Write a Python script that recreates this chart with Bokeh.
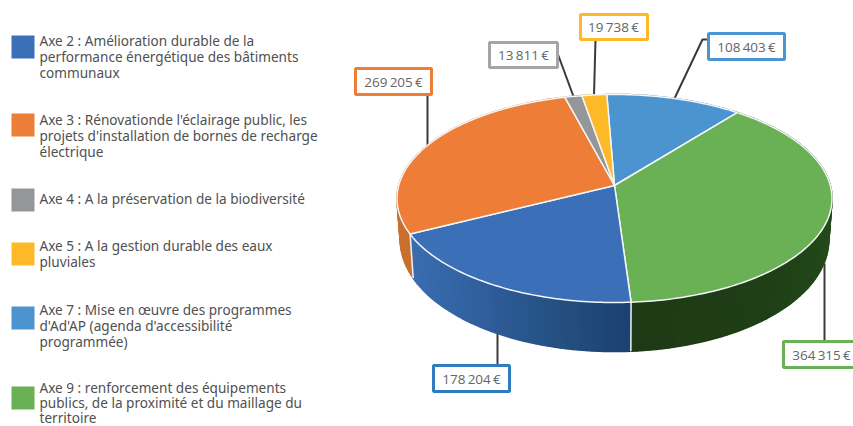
import math
from bokeh.plotting import figure
from bokeh.models import Range1d
from bokeh.core.properties import value
from bokeh.embed import file_html
from bokeh.resources import INLINE

# ---- data (clockwise from the top of the pie)
axes_names = ["Axe 7", "Axe 9", "Axe 2", "Axe 3", "Axe 4", "Axe 5"]
amounts = [108403, 364315, 178204, 269205, 13811, 19738]
top_colors = ["#4c94d0", "#6ab155", "#3b70b8", "#ed7d37", "#949697", "#fdb927"]
wall_colors = [
    ["#3a76a8", "#3a76a8"],
    ["#2a5320", "#30521f", "#244a1a", "#1f3f17", "#1d3a15"],
    ["#1b4171", "#24507f", "#2e5c98", "#3567a8", "#3b6db0"],
    ["#c9702f", "#c9702f"],
    ["#777777", "#777777"],
    ["#c99520", "#c99520"],
]
legend_lines = [
    ["Axe 2 : Amélioration durable de la", "performance énergétique des bâtiments", "communaux"],
    ["Axe 3 : Rénovationde l'éclairage public, les", "projets d'installation de bornes de recharge", "électrique"],
    ["Axe 4 : A la préservation de la biodiversité"],
    ["Axe 5 : A la gestion durable des eaux", "pluviales"],
    ["Axe 7 : Mise en œuvre des programmes", "d'Ad'AP (agenda d'accessibilité", "programmée)"],
    ["Axe 9 : renforcement des équipements", "publics, de la proximité et du maillage du", "territoire"],
]
legend_colors = ["#3b70b8", "#ed7d37", "#949697", "#fdb927", "#4c94d0", "#6ab155"]

# ---- layout (reference pixels)
W, H = 853, 426
CX, CY = 614.0, 185.0
KX, KY, PERSP = 215.8, 102.4, 0.125
START = -2.3
legend_box_y = [(35, 58), (113, 136), (188, 211), (242, 265), (306, 329), (386, 409)]
legend_text_y = [[40, 56, 72], [119, 135, 151], [198], [245, 261], [309, 325, 341], [387, 402, 417]]
label_boxes = [
    (708, 784, 33, 59, "#4a95d3"),
    (783, 870, 341, 367, "#6ab155"),
    (433, 509, 365, 391, "#2f7cc0"),
    (355, 431, 68, 94, "#ed7d37"),
    (489, 557, 42, 67, "#a3a5a6"),
    (580, 647, 14, 39, "#fdb927"),
]
label_text_x = [746, 821, 471, 393, 523, 613]
leaders = [
    ([708, 702, 674], [39, 39, 98]),
    ([824, 824], [263, 341]),
    ([497, 497], [333, 365]),
    ([427, 427], [94, 146]),
    ([556, 573], [50, 96]),
    ([595, 593.5], [39, 95]),
]


def project(deg):
    t = math.radians(deg)
    u, v = math.sin(t), -math.cos(t)
    d = 1 - PERSP * v
    return CX + KX * u / d, CY + KY * v / d, v


def low(deg):
    x, y, v = project(deg)
    return CX + (x - CX) * 0.985, y + 40 + 9 * v


def mix(stops, f):
    pos = f * (len(stops) - 1)
    i = min(int(pos), len(stops) - 2)
    a, b = stops[i], stops[i + 1]
    w = pos - i
    ca = [int(a[j:j + 2], 16) for j in (1, 3, 5)]
    cb = [int(b[j:j + 2], 16) for j in (1, 3, 5)]
    return "#%02x%02x%02x" % tuple(round(p + (q - p) * w) for p, q in zip(ca, cb))


p = figure(width=W, height=H, output_backend="svg", toolbar_location=None,
           x_range=Range1d(0, W), y_range=Range1d(H, 0),
           min_border=0, outline_line_color=None, background_fill_color="white",
           border_fill_color="white")
p.axis.visible = False
p.grid.visible = False

total = sum(amounts)
spans = []
a0 = START
for amt in amounts:
    a1 = a0 + 360 * amt / total
    spans.append((a0, a1))
    a0 = a1

# leader lines go under the pie
for xs, ys in leaders:
    p.line(xs, ys, line_color="#3a3a3a", line_width=2)

# walls
wx, wy, wc = [], [], []
for (a0, a1), stops in zip(spans, wall_colors):
    n = max(2, int((a1 - a0) / 1.5))
    for i in range(n):
        b0 = a0 + (a1 - a0) * i / n
        b1 = a0 + (a1 - a0) * (i + 1) / n
        t0, t1 = project(b0), project(b1)
        l0, l1 = low(b0), low(b1)
        wx.append([t0[0], t1[0], l1[0], l0[0]])
        wy.append([t0[1], t1[1], l1[1], l0[1]])
        wc.append(mix(stops, (i + 0.5) / n))
p.patches(wx, wy, fill_color=wc, line_color=wc, line_width=1.6)

# wall separators
for (a0, a1) in spans:
    t, l = project(a0), low(a0)
    if t[2] > 0.1:
        p.line([t[0], l[0]], [t[1], l[1]], line_color="#eef2f6", line_width=1.5)

# top face
tx, ty = [], []
for (a0, a1) in spans:
    n = max(3, int(a1 - a0))
    pts = [project(a0 + (a1 - a0) * i / n) for i in range(n + 1)]
    tx.append([CX] + [q[0] for q in pts])
    ty.append([CY] + [q[1] for q in pts])
p.patches(tx, ty, fill_color=top_colors, line_color="#f4f6f8", line_width=1.5, line_join="round")

# value labels
for (x0, x1, y0, y1, col), amt, cx in zip(label_boxes, amounts, label_text_x):
    p.quad(left=[x0], right=[x1], top=[y0], bottom=[y1], fill_color="white",
           line_color=col, line_width=3)
    label = f"{amt:,}".replace(",", "\u2009") + "\u2009€"
    p.text([cx], [(y0 + y1) / 2], text=[label], text_align="center", text_baseline="middle",
           text_font=value("Open Sans"), text_font_size="13.5px", text_color="#666666")

# legend
for (y0, y1), col, lines, ys in zip(legend_box_y, legend_colors, legend_lines, legend_text_y):
    p.quad(left=[11], right=[34], top=[y0], bottom=[y1], fill_color=col, line_color=None)
    p.text([39] * len(lines), ys, text=lines, text_align="left", text_baseline="middle",
           text_font=value("Noto Sans"), text_font_size="13.6px", text_color="#505050")

open("out.html", "w").write(file_html(p, INLINE))
